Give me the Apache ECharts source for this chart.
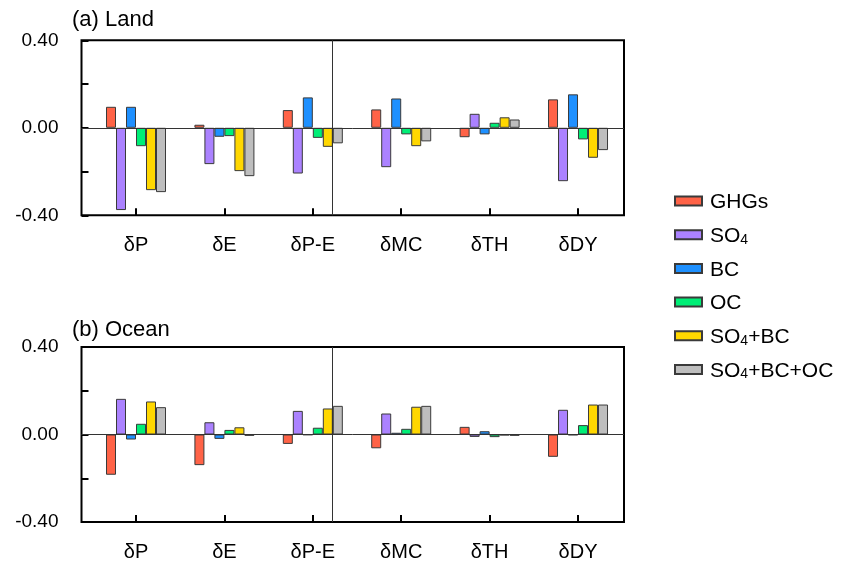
<!DOCTYPE html>
<html><head><meta charset="utf-8">
<script src="https://cdn.jsdelivr.net/npm/echarts@6/dist/echarts.min.js"></script>
<style>html,body{margin:0;padding:0;background:#fff}#c{width:843px;height:564px}</style>
</head><body><div id="c"></div>
<script>
const categories = ['δP','δE','δP-E','δMC','δTH','δDY'];
const seriesNames = ['GHGs','SO4','BC','OC','SO4+BC','SO4+BC+OC'];
const colors = ['#FF6347','#AB82FF','#1E90FF','#00EE76','#FFD700','#BEBEBE'];
const yTicks = [-0.4, -0.2, 0, 0.2, 0.4];

// (a) Land
const landGHGs   = [0.096, 0.014, 0.081, 0.084, -0.043, 0.130];
const landSO4    = [-0.376, -0.166, -0.209, -0.180, 0.064, -0.244];
const landBC     = [0.096, -0.041, 0.139, 0.134, -0.030, 0.153];
const landOC     = [-0.084, -0.038, -0.046, -0.030, 0.023, -0.053];
const landSO4BC  = [-0.285, -0.198, -0.087, -0.084, 0.048, -0.137];
const landAll    = [-0.294, -0.221, -0.071, -0.062, 0.038, -0.102];
// (b) Ocean
const oceanGHGs  = [-0.184, -0.140, -0.043, -0.063, 0.035, -0.102];
const oceanSO4   = [0.163, 0.056, 0.108, 0.096, -0.011, 0.113];
const oceanBC    = [-0.023, -0.020, -0.002, 0.008, 0.015, -0.003];
const oceanOC    = [0.049, 0.021, 0.031, 0.026, -0.012, 0.043];
const oceanSO4BC = [0.151, 0.033, 0.119, 0.127, -0.004, 0.137];
const oceanAll   = [0.125, -0.006, 0.131, 0.131, -0.006, 0.137];

const landData = [landGHGs, landSO4, landBC, landOC, landSO4BC, landAll];
const oceanData = [oceanGHGs, oceanSO4, oceanBC, oceanOC, oceanSO4BC, oceanAll];

const FONT = 'Liberation Sans, Arial, Helvetica, sans-serif';
const catIdx = categories.map((c, i) => i);

function xAxis(gi) {
  return {
    type: 'value', gridIndex: gi, min: -0.6165, max: 5.52,
    axisLine: {show: false, onZero: false}, splitLine: {show: false},
    axisTick: {show: true, inside: true, length: 7, customValues: catIdx, lineStyle: {color: '#000', width: 2}},
    axisLabel: {show: true, customValues: catIdx, margin: 20, color: '#000', fontSize: 20, fontFamily: FONT,
      formatter: v => categories[Math.round(v)]}
  };
}
function yAxis(gi) {
  return {
    type: 'value', gridIndex: gi, min: yTicks[0], max: yTicks[yTicks.length - 1], interval: 0.2,
    axisLine: {show: false, onZero: false}, splitLine: {show: false},
    axisTick: {show: true, inside: true, length: 7, lineStyle: {color: '#000', width: 2}},
    axisLabel: {margin: 23, color: '#000', fontSize: 19, fontFamily: FONT,
      formatter: v => (Math.abs(Math.abs(v) - 0.2) < 1e-6) ? '' : (Math.abs(v) < 1e-9 ? '0.00' : v.toFixed(2))}
  };
}

const series = [];
[landData, oceanData].forEach((panel, gi) => {
  panel.forEach((vals, si) => {
    const s = {
      name: seriesNames[si], type: 'bar', xAxisIndex: gi, yAxisIndex: gi,
      barWidth: 10, barGap: '0%',
      itemStyle: {color: colors[si], borderColor: '#3a3a3a', borderWidth: 1},
      data: vals.map((v, i) => [i, v])
    };
    if (si === 0) {
      s.markLine = {
        silent: true, symbol: 'none', label: {show: false}, animation: false,
        lineStyle: {color: '#333', width: 1, type: 'solid'},
        data: [{yAxis: 0}, {xAxis: 2.5}]
      };
    }
    series.push(s);
  });
});

const richText = {
  n: {fontSize: 21, fontFamily: FONT, color: '#000', lineHeight: 24, verticalAlign: 'bottom'},
  s: {fontSize: 14, fontFamily: FONT, color: '#000', lineHeight: 13, verticalAlign: 'bottom'}
};
function legendFmt(name) {
  return name.split(/(4)/).filter(p => p !== '').map(p => p === '4' ? '{s|4}' : '{n|' + p + '}').join('');
}
const legendCenters = [201, 234.7, 268.4, 302.1, 335.8, 369.5];
const legends = seriesNames.map((nm, i) => ({
  orient: 'vertical', left: 674, top: legendCenters[i] - 12, padding: 0,
  itemWidth: 27, itemHeight: 9, icon: 'rect', data: [nm], formatter: legendFmt,
  selectedMode: false,
  textStyle: {color: '#000', fontSize: 21, fontFamily: FONT, lineHeight: 24, padding: [0, 0, 0, 3], rich: richText}
}));

const option = {
  animation: false,
  backgroundColor: '#fff',
  title: [
    {text: '(a) Land', left: 72, top: 9, padding: 0, textStyle: {fontSize: 22, fontWeight: 'normal', color: '#000', fontFamily: FONT}},
    {text: '(b) Ocean', left: 72, top: 319, padding: 0, textStyle: {fontSize: 22, fontWeight: 'normal', color: '#000', fontFamily: FONT}}
  ],
  grid: [
    {left: 81.5, top: 40.3, width: 542.5, height: 175, show: true, borderColor: '#000', borderWidth: 2, backgroundColor: 'transparent'},
    {left: 81.5, top: 347, width: 542.5, height: 175, show: true, borderColor: '#000', borderWidth: 2, backgroundColor: 'transparent'}
  ],
  legend: legends,
  xAxis: [xAxis(0), xAxis(1)],
  yAxis: [yAxis(0), yAxis(1)],
  series: series
};
const chart = echarts.init(document.getElementById('c'), null, {renderer: 'canvas'});
chart.setOption(option);
</script></body></html>
